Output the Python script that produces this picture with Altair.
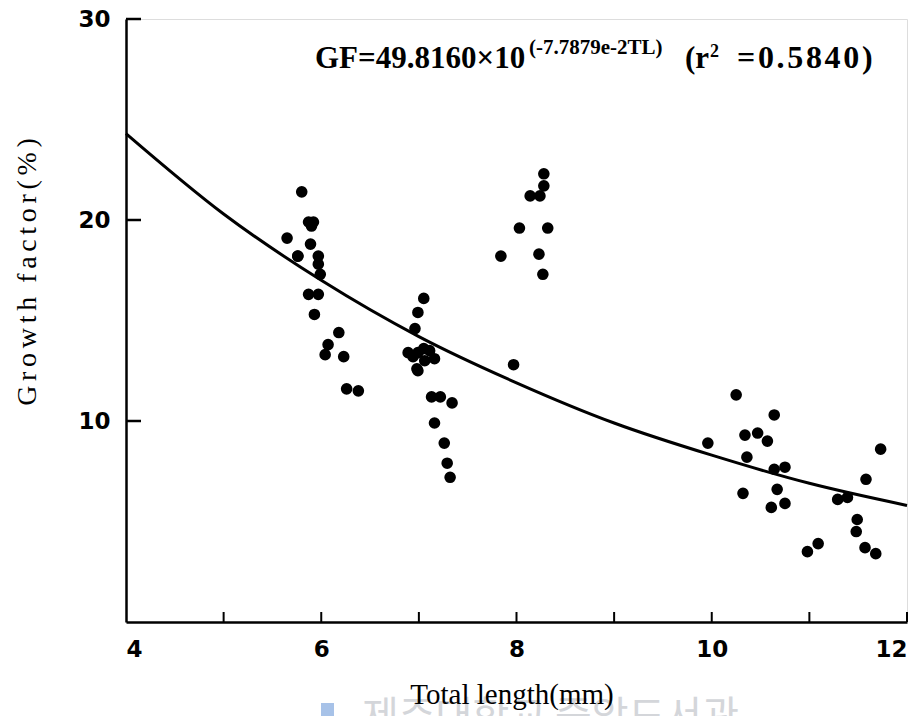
import altair as alt
import pandas as pd

# Observed data points (total length mm, growth factor %)
tl = [5.65, 5.76, 5.80, 5.87, 5.92, 5.90, 5.89, 5.76, 5.97, 5.97, 5.99, 5.87, 5.97, 5.93,
      6.18, 6.07, 6.04, 6.23, 6.26, 6.38,
      7.05, 6.99, 6.96, 6.89, 6.94, 6.99, 7.05, 7.11, 7.16, 7.06, 6.98, 6.99,
      7.13, 7.22, 7.34, 7.16, 7.26, 7.29, 7.32,
      8.28, 8.28, 8.14, 8.24, 8.03, 8.32, 7.84, 8.23, 8.27, 7.97,
      10.25, 10.64, 9.96, 10.34, 10.47, 10.57, 10.36, 10.64, 10.75, 11.73, 11.58,
      10.32, 10.67, 10.61, 10.75, 11.29, 11.39, 11.49, 11.48, 10.98, 11.09, 11.57, 11.68]
gf = [19.1, 18.2, 21.4, 19.9, 19.9, 19.7, 18.8, 18.2, 18.2, 17.8, 17.3, 16.3, 16.3, 15.3,
      14.4, 13.8, 13.3, 13.2, 11.6, 11.5,
      16.1, 15.4, 14.6, 13.4, 13.2, 13.4, 13.6, 13.5, 13.1, 13.0, 12.6, 12.5,
      11.2, 11.2, 10.9, 9.9, 8.9, 7.9, 7.2,
      22.3, 21.7, 21.2, 21.2, 19.6, 19.6, 18.2, 18.3, 17.3, 12.8,
      11.3, 10.3, 8.9, 9.3, 9.4, 9.0, 8.2, 7.6, 7.7, 8.6, 7.1,
      6.4, 6.6, 5.7, 5.9, 6.1, 6.2, 5.1, 4.5, 3.5, 3.9, 3.7, 3.4]

# Fitted curve
curve_tl = [4, 5, 6, 7, 8, 9, 10, 11, 12]
curve_gf = [24.3, 20.3, 17.0, 14.2, 11.9, 9.9, 8.3, 6.9, 5.8]

# Axis ticks
x_ticks = [5, 6, 7, 8, 9, 10, 11, 12]
y_ticks = [10, 20, 30]
x_labels = [4, 6, 8, 10, 12]

pts = pd.DataFrame({"tl": tl, "gf": gf})
crv = pd.DataFrame({"tl": curve_tl, "gf": curve_gf})
xt = pd.DataFrame({"t": x_ticks})
yt = pd.DataFrame({"t": y_ticks})

W, H = 781, 603
xs = alt.Scale(domain=[4, 12], nice=False, zero=False)
ys = alt.Scale(domain=[0, 30], nice=False, zero=False)

LABEL_FONT = "DejaVu Sans"
SERIF = "Liberation Serif"
HS = "\u200a"   # hair space used as letter spacing
NB = "\u00a0"   # non-breaking space

xaxis = alt.Axis(values=x_labels, format="d", ticks=False, grid=False, title=None, domain=True,
                 domainColor="black", domainWidth=2.5, labelFont=LABEL_FONT,
                 labelFontSize=23, labelFontWeight="bold", labelColor="black", labelPadding=16)
yaxis = alt.Axis(values=y_ticks, format="d", ticks=False, grid=False, title=None, domain=True,
                 domainColor="black", domainWidth=2.5, labelFont=LABEL_FONT,
                 labelFontSize=23, labelFontWeight="bold", labelColor="black", labelPadding=16)

points = alt.Chart(pts).mark_circle(size=135, color="black", opacity=1).encode(
    x=alt.X("tl:Q", scale=xs, axis=xaxis),
    y=alt.Y("gf:Q", scale=ys, axis=yaxis),
)

line = alt.Chart(crv).mark_line(color="black", strokeWidth=3, interpolate="monotone").encode(
    x=alt.X("tl:Q", scale=xs),
    y=alt.Y("gf:Q", scale=ys),
)

xtick = alt.Chart(xt).mark_rule(color="black", strokeWidth=2).encode(
    x=alt.X("t:Q", scale=xs),
    y=alt.value(H),
    y2=alt.value(H - 10),
)
ytick = alt.Chart(yt).mark_rule(color="black", strokeWidth=2.5).encode(
    y=alt.Y("t:Q", scale=ys),
    x=alt.value(0),
    x2=alt.value(15),
)

def txt(s, x, y, size, font=SERIF, weight="bold", angle=0, align="left", color="black"):
    return alt.Chart(pd.DataFrame({"s": [s]})).mark_text(
        font=font, fontSize=size, fontWeight=weight, align=align, baseline="alphabetic",
        angle=angle, color=color,
    ).encode(text="s:N", x=alt.value(x), y=alt.value(y))

def spaced(s, n=1):
    return (HS * n).join(list(s))

eq1 = txt("GF=49.8160×10", 189, 49, 31)
eq2 = txt("(-7.7879e-2TL)", 403, 35, 21)
eq3 = txt("(r", 559, 49, 31)
eq4 = txt("2", 584, 38, 18)
eq5 = txt(spaced("=0.5840)", 1), 611, 49, 32)

xtitle = txt("Total length(mm)", 386, 685, 29, weight="normal", align="center")
ytitle = txt(spaced("Growth", 2) + NB + NB + spaced("factor(%)", 2), -90, 253, 28,
             weight="normal", angle=270, align="center")

wm = txt("제주대학교 중앙도서관", 236, 711, 40, font="Noto Sans CJK KR", weight="normal",
         color="#d4d6da")
wm_rect = alt.Chart(pd.DataFrame({"a": [0]})).mark_rect(color="#a7c2e8").encode(
    x=alt.value(195), x2=alt.value(208), y=alt.value(684), y2=alt.value(710)
)

chart = alt.layer(
    wm_rect, wm, line, points, xtick, ytick, eq1, eq2, eq3, eq4, eq5, xtitle, ytitle
).properties(
    width=W, height=H,
    autosize=alt.AutoSizeParams(type="none"),
    padding={"left": 118, "top": 11, "right": 5, "bottom": 94},
).configure_view(stroke=None).configure(background="white")

chart.save("out.html", embed_options={"renderer": "svg", "actions": False})
